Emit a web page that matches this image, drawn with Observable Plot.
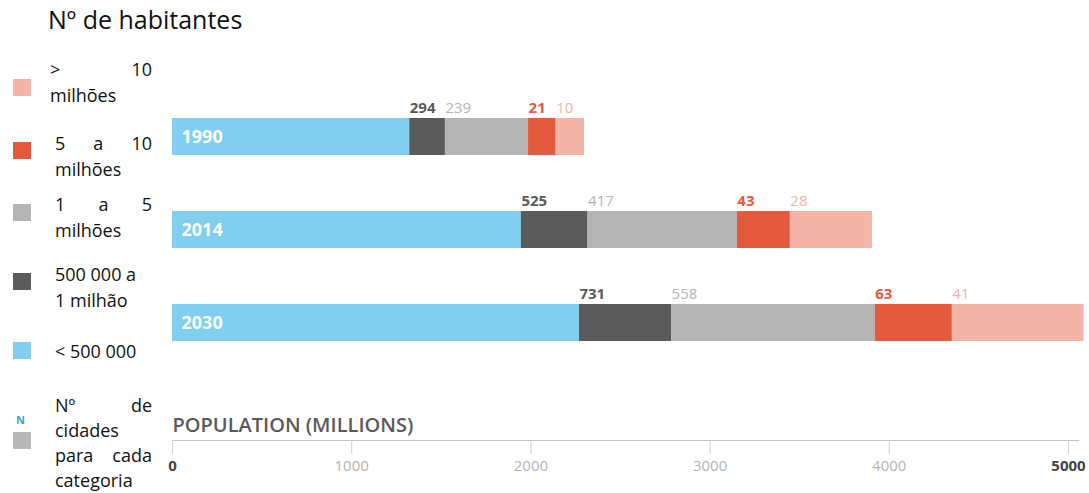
<!DOCTYPE html>
<html>
<head>
<meta charset="utf-8">
<script src="https://cdn.jsdelivr.net/npm/d3@7"></script>
<script src="https://cdn.jsdelivr.net/npm/@observablehq/plot@0.6"></script>
<style>
  html, body { margin: 0; padding: 0; background: #fff; }
  #wrap { position: relative; width: 1089px; height: 493px; overflow: hidden; font-family: "Open Sans", sans-serif; }
  #chart { position: absolute; left: 0; top: 0; }
  #legend { position: absolute; left: 0; top: 0; width: 170px; height: 493px; z-index: 2; color: #111; }
  .title { position: absolute; left: 48px; top: 3px; font-size: 25px; line-height: 32px; white-space: nowrap; }
  .sw { position: absolute; left: 13px; width: 18px; height: 17px; }
  .blk { position: absolute; font-size: 18px; line-height: 26px; }
  .j { display: flex; justify-content: space-between; }
  .ntag { position: absolute; left: 16px; font-size: 11px; font-weight: 700; color: #3aa3d4; }
</style>
</head>
<body>
<div id="wrap">
  <div id="chart"></div>
  <div id="legend"></div>
</div>
<script>
// ---- data ----
const years = ["1990", "2014", "2030"];
const categories = ["< 500 000", "500 000 a 1 milhão", "1 a 5 milhões", "5 a 10 milhões", "> 10 milhões"];
const colors = ["#80cff0", "#5b5b5b", "#b4b4b4", "#e45a3d", "#f4b4a8"];
// population (millions) per city-size class
const pop1990 = [1324, 199, 464, 154, 158];
const pop2014 = [1947, 372, 833, 296, 458];
const pop2030 = [2271, 514, 1137, 430, 735];
// number of cities per class
const cities1990 = [null, 294, 239, 21, 10];
const cities2014 = [null, 525, 417, 43, 28];
const cities2030 = [null, 731, 558, 63, 41];
const xTicksLight = [1000, 2000, 3000, 4000];
const xTicksDark = [0, 5000];
const xMax = 5056;
const axisLabel = "POPULATION (MILLIONS)";
const legendTitle = "Nº de habitantes";

const popByYear = [pop1990, pop2014, pop2030];
const citiesByYear = [cities1990, cities2014, cities2030];
const rows = [];
years.forEach((y, i) => categories.forEach((c, j) => {
  rows.push({year: y, cat: c, pop: popByYear[i][j], cities: citiesByYear[i][j]});
}));
const boldCats = new Set([categories[1], categories[3]]);
const lightCats = new Set([categories[2], categories[4]]);
const fmt = d => String(d);

const plot = Plot.plot({
  width: 1089,
  height: 493,
  marginLeft: 172,
  marginRight: 11,
  marginTop: 0,
  marginBottom: 53,
  style: {fontFamily: "'Open Sans', sans-serif", background: "transparent", overflow: "visible"},
  x: {domain: [0, xMax], axis: null},
  y: {type: "band", domain: years, range: [62.2, 397], paddingInner: 0.6, paddingOuter: 0.6, axis: null},
  color: {domain: categories, range: colors},
  marks: [
    Plot.frame({anchor: "bottom", stroke: "#c4c4c4", strokeWidth: 1.2}),
    Plot.axisX({ticks: xTicksLight, tickFormat: fmt, anchor: "bottom", tickSize: 14, tickPadding: 6, stroke: "#cfcfcf", fill: "#b3b3b3", fontSize: 15, label: null}),
    Plot.axisX({ticks: xTicksDark, tickFormat: fmt, anchor: "bottom", tickSize: 14, tickPadding: 6, stroke: "#cfcfcf", fill: "#444", fontWeight: 700, fontSize: 15, label: null}),
    Plot.text([axisLabel], {frameAnchor: "bottom-left", text: d => d, dy: -15, textAnchor: "start", lineAnchor: "middle", fontSize: 20, fontWeight: 600, fill: "#5a5a5a"}),
    Plot.barX(rows, {x: "pop", y: "year", fill: "cat"}),
    Plot.text(rows, Plot.stackX1({x: "pop", y: "year", fill: "cat",
      text: d => boldCats.has(d.cat) ? String(d.cities) : null,
      textAnchor: "start", lineAnchor: "middle", dy: -29, fontSize: 15, fontWeight: 700})),
    Plot.text(rows, Plot.stackX1({x: "pop", y: "year", fill: "cat",
      text: d => lightCats.has(d.cat) ? String(d.cities) : null,
      textAnchor: "start", lineAnchor: "middle", dy: -29, fontSize: 15, fontWeight: 400})),
    Plot.text(years, {y: d => d, text: d => d, frameAnchor: "left", textAnchor: "start", dx: 9, fill: "white", fontWeight: 700, fontSize: 18})
  ]
});
document.getElementById("chart").appendChild(plot);

// ---- legend (HTML) ----
const L = document.getElementById("legend");
function add(html) { L.insertAdjacentHTML("beforeend", html); }
add(`<div class="title">${legendTitle}</div>`);
const legendItems = [
  {cat: 4, sw: 79, top: 56, left: 50, lines: [["&gt;", "10"], ["milhões"]]},
  {cat: 3, sw: 142, top: 130, left: 55, lines: [["5", "a", "10"], ["milhões"]]},
  {cat: 2, sw: 204, top: 191, left: 55, lines: [["1", "a", "5"], ["milhões"]]},
  {cat: 1, sw: 273, top: 261, left: 55, lines: [["500 000 a"], ["1 milhão"]]},
  {cat: 0, sw: 342, top: 338, left: 55, lines: [["&lt; 500 000"]]}
];
legendItems.forEach(it => {
  add(`<div class="sw" style="top:${it.sw}px;background:${colors[it.cat]}"></div>`);
  const inner = it.lines.map(l => l.length > 1
    ? `<div class="j">${l.map(w => `<span>${w}</span>`).join("")}</div>`
    : `<div>${l[0]}</div>`).join("");
  add(`<div class="blk" style="top:${it.top}px;left:${it.left}px;width:${152 - it.left}px">${inner}</div>`);
});
add(`<div class="ntag" style="top:412px">N</div>`);
add(`<div class="sw" style="top:432px;background:#b8b8b8"></div>`);
add(`<div class="blk" style="top:393px;left:55px;width:97px;line-height:25px">
  <div class="j"><span>Nº</span><span>de</span></div>
  <div>cidades</div>
  <div class="j"><span>para</span><span>cada</span></div>
  <div>categoria</div></div>`);
</script>
</body>
</html>
